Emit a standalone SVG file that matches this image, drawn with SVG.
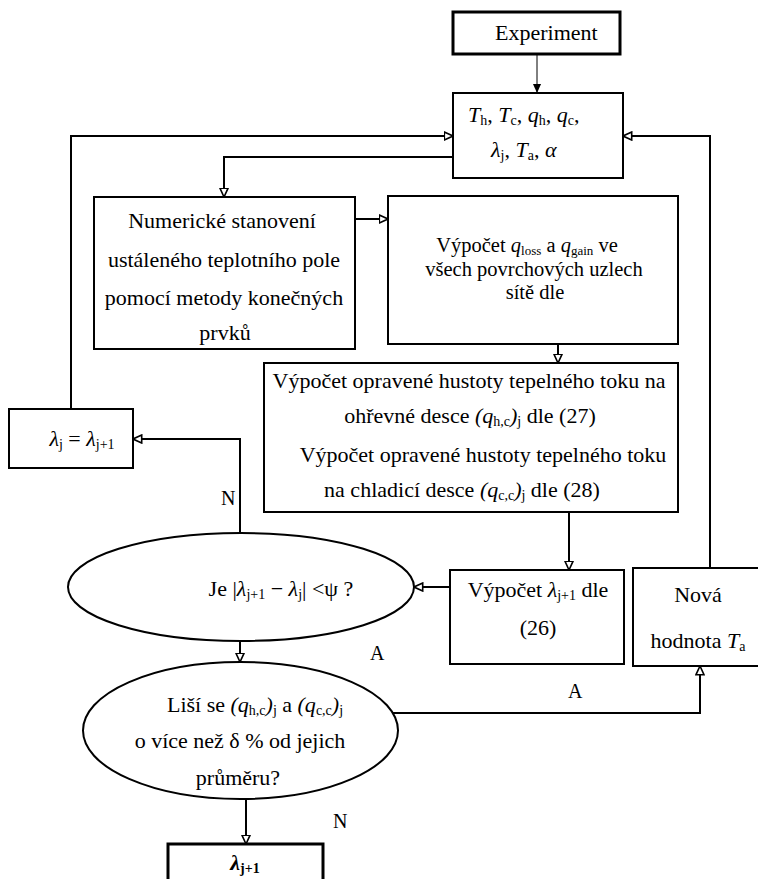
<svg xmlns="http://www.w3.org/2000/svg" width="758" height="879" viewBox="0 0 758 879" font-family="'Liberation Serif', Tinos, 'DejaVu Serif', serif">
<style>
text{font-family:'Liberation Serif',Tinos,'DejaVu Serif',serif;font-size:22px;fill:#000}
.m{text-anchor:middle}
.i{font-style:italic}
.s{font-size:14px;baseline-shift:-3px}
.sm{font-size:20.5px}
.sm .s{font-size:13px}
.lbl{font-size:20px}
.box{fill:#fff;stroke:#000;stroke-width:2}
.thick{fill:#fff;stroke:#000;stroke-width:3}
.c{fill:none;stroke:#000;stroke-width:2}
</style>
<defs>
<marker id="open" viewBox="0 0 10 10" refX="9.5" refY="5" markerWidth="10" markerHeight="10" markerUnits="userSpaceOnUse" orient="auto">
<path d="M0.8,1 L9.5,5 L0.8,9 Z" fill="#fff" stroke="#000" stroke-width="1.6"/>
</marker>
<marker id="fill" viewBox="0 0 10 10" refX="10" refY="5" markerWidth="9" markerHeight="9" markerUnits="userSpaceOnUse" orient="auto">
<path d="M0,0.5 L10,5 L0,9.5 Z" fill="#000"/>
</marker>
</defs>

<g id="connectors">
<path d="M537,54 V93" fill="none" stroke="#000" stroke-width="1" marker-end="url(#fill)"/>
<path class="c" d="M71,409 V136 H453" marker-end="url(#open)"/>
<path class="c" d="M453,157 H224 V197" marker-end="url(#open)"/>
<path class="c" d="M355,219 H388" marker-end="url(#open)"/>
<path class="c" d="M558,344 V363" marker-end="url(#open)"/>
<path class="c" d="M569,512 V570" marker-end="url(#open)"/>
<path class="c" d="M450,587 H414" marker-end="url(#open)"/>
<path class="c" d="M240,533 V439 H133" marker-end="url(#open)"/>
<path class="c" d="M240,641 V662" marker-end="url(#open)"/>
<path class="c" d="M393,713 H700 V666" marker-end="url(#open)"/>
<path class="c" d="M710,568 V136 H623" marker-end="url(#open)"/>
<path class="c" d="M246,799 V844" marker-end="url(#open)"/>
<text class="lbl" x="221" y="505">N</text>
<text class="lbl" x="370" y="660">A</text>
<text class="lbl" x="568" y="698">A</text>
<text class="lbl" x="333" y="828">N</text>
</g>

<g id="experiment">
<rect class="thick" x="453" y="12" width="167" height="42"/>
<text x="495" y="40">Experiment</text>
</g>

<g id="inputs">
<rect class="box" x="453" y="93" width="170" height="85"/>
<text x="468" y="122"><tspan class="i">T</tspan><tspan class="s">h</tspan>, <tspan class="i">T</tspan><tspan class="s">c</tspan>, <tspan class="i">q</tspan><tspan class="s">h</tspan>, <tspan class="i">q</tspan><tspan class="s">c</tspan>,</text>
<text x="491" y="157"><tspan class="i">λ</tspan><tspan class="s">j</tspan>, <tspan class="i">T</tspan><tspan class="s">a</tspan>, <tspan class="i">α</tspan></text>
</g>

<g id="numeric">
<rect class="box" x="94" y="197" width="261" height="152"/>
<text class="m" x="222" y="228">Numerické stanovení</text>
<text class="m" x="224" y="267">ustáleného teplotního pole</text>
<text class="m" x="224" y="305">pomocí metody konečných</text>
<text class="m" x="225" y="340">prvků</text>
</g>

<g id="qloss">
<rect class="box" x="388" y="196" width="290" height="148"/>
<text class="m sm" x="527" y="252">Výpočet <tspan class="i">q</tspan><tspan class="s">loss</tspan> a <tspan class="i">q</tspan><tspan class="s">gain</tspan> ve</text>
<text class="m sm" x="534" y="276">všech povrchových uzlech</text>
<text class="m sm" x="535" y="299">sítě dle</text>
</g>

<g id="corrected">
<rect class="box" x="264" y="363" width="414" height="149"/>
<text class="m" x="469" y="388">Výpočet opravené hustoty tepelného toku na</text>
<text class="m" x="470" y="423">ohřevné desce <tspan class="i">(q</tspan><tspan class="s">h,c</tspan><tspan class="i">)</tspan><tspan class="s">j</tspan> dle (27)</text>
<text class="m" x="483" y="462">Výpočet opravené hustoty tepelného toku</text>
<text class="m" x="462" y="497">na chladicí desce <tspan class="i">(q</tspan><tspan class="s">c,c</tspan><tspan class="i">)</tspan><tspan class="s">j</tspan> dle (28)</text>
</g>

<g id="lambda-update">
<rect class="box" x="9" y="409" width="124" height="59"/>
<text class="m" x="82" y="446"><tspan class="i">λ</tspan><tspan class="s">j</tspan> = <tspan class="i">λ</tspan><tspan class="s">j+1</tspan></text>
</g>

<g id="lambda-calc">
<rect class="box" x="450" y="570" width="174" height="94"/>
<text class="m" x="538" y="597">Výpočet <tspan class="i">λ</tspan><tspan class="s">j+1</tspan> dle</text>
<text class="m" x="538" y="635">(26)</text>
</g>

<g id="new-ta">
<rect class="box" x="633" y="568" width="130" height="98"/>
<text class="m" x="698" y="602">Nová</text>
<text class="m" x="698" y="648">hodnota <tspan class="i">T</tspan><tspan class="s">a</tspan></text>
</g>

<g id="check-lambda">
<ellipse class="box" cx="241" cy="587" rx="173" ry="54"/>
<text class="m" x="281" y="596">Je |<tspan class="i">λ</tspan><tspan class="s">j+1</tspan> − <tspan class="i">λ</tspan><tspan class="s">j</tspan>| &lt;ψ ?</text>
</g>

<g id="check-q">
<ellipse class="box" cx="240.5" cy="730.5" rx="157.5" ry="68.5"/>
<text class="m" x="255" y="712">Liší se <tspan class="i">(q</tspan><tspan class="s">h,c</tspan><tspan class="i">)</tspan><tspan class="s">j</tspan> a <tspan class="i">(q</tspan><tspan class="s">c,c</tspan><tspan class="i">)</tspan><tspan class="s">j</tspan></text>
<text class="m" x="240" y="748">o více než δ % od jejich</text>
<text class="m" x="238" y="785">průměru?</text>
</g>

<g id="result">
<rect class="thick" x="168" y="844" width="155" height="45"/>
<text class="m" x="245" y="870" font-weight="bold"><tspan class="i">λ</tspan><tspan class="s">j+1</tspan></text>
</g>
</svg>
